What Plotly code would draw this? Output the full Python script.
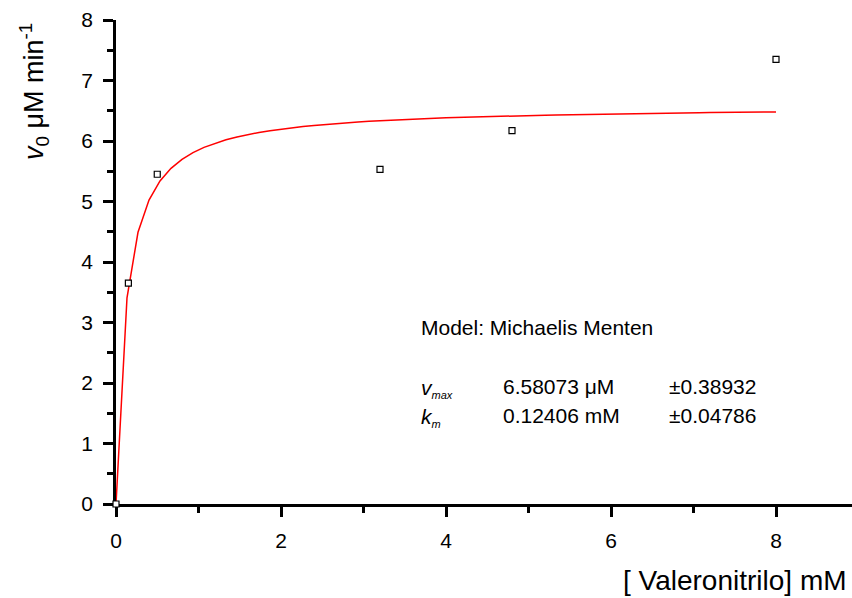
import numpy as np
import plotly.graph_objects as go

# Measured initial rates
substrate_mM = [0.0, 0.15, 0.5, 3.2, 4.8, 8.0]
rate_v0 = [0.0, 3.65, 5.45, 5.53, 6.17, 7.35]

# Fitted Michaelis-Menten parameters
vmax = 6.58073
vmax_err = 0.38932
km = 0.12406
km_err = 0.04786

x_ticks = [0, 2, 4, 6, 8]
y_ticks = [0, 1, 2, 3, 4, 5, 6, 7, 8]

# Fitted curve evaluated on a regular grid
x_fit = np.linspace(0, 8, 61)
y_fit = vmax * x_fit / (km + x_fit)

W, H = 852, 598
L, R, T, B = 116, 0, 20, 94
pw, ph = W - L - R, H - T - B

FONT = "Liberation Sans, Arial, sans-serif"


def px(xp):
    return (xp - L) / pw


def py(yp):
    return (H - B - yp) / ph


fig = go.Figure()
fig.add_trace(go.Scatter(
    x=x_fit, y=y_fit, mode="lines",
    line=dict(color="#ff0000", width=1.5),
    hoverinfo="skip", showlegend=False,
))
fig.add_trace(go.Scatter(
    x=substrate_mM, y=rate_v0, mode="markers",
    marker=dict(symbol="square", size=6, color="white", line=dict(width=1.2, color="black")),
    cliponaxis=False, showlegend=False,
))

axis_common = dict(
    showgrid=False, zeroline=False, showline=True, linecolor="black", linewidth=2.5,
    ticks="outside", ticklen=10, tickwidth=2.5, tickcolor="black",
    tickfont=dict(family=FONT, size=21, color="black"),
    ticklabelstandoff=6, layer="below traces",
)
fig.update_xaxes(
    range=[0, pw / 82.5], tickvals=x_ticks, ticktext=[str(t) for t in x_ticks],
    minor=dict(tickvals=[1, 3, 5, 7], ticklen=6, tickwidth=2.5, tickcolor="black", ticks="outside"),
    **axis_common,
)
fig.update_yaxes(
    range=[0, 8], tickvals=y_ticks, ticktext=[str(t) for t in y_ticks],
    minor=dict(tickvals=[v + 0.5 for v in y_ticks[:-1]], ticklen=6, tickwidth=2.5,
               tickcolor="black", ticks="outside"),
    **axis_common,
)

sub_style = "font-size:11px"
annotations = [
    dict(x=px(849), y=py(580), text="[ Valeronitrilo] mM", xanchor="right", yanchor="middle",
         font=dict(size=28)),
    dict(x=px(34), y=py(92), text="<i>v</i><sub>0</sub> μM min<sup>-1</sup>", textangle=-90,
         xanchor="center", yanchor="middle", font=dict(size=27)),
    dict(x=px(419), y=py(327), text="Model: Michaelis Menten", xanchor="left", yanchor="middle",
         font=dict(size=21)),
    dict(x=px(419), y=py(388),
         text=f"<i>v</i><sub><i><span style='{sub_style}'>max</span></i></sub>",
         xanchor="left", yanchor="middle", font=dict(size=21)),
    dict(x=px(501), y=py(386), text=f"{vmax:.5f} μM", xanchor="left", yanchor="middle",
         font=dict(size=21)),
    dict(x=px(667), y=py(386), text=f"±{vmax_err:.5f}", xanchor="left", yanchor="middle",
         font=dict(size=21)),
    dict(x=px(419), y=py(417),
         text=f"<i>k</i><sub><i><span style='{sub_style}'>m</span></i></sub>",
         xanchor="left", yanchor="middle", font=dict(size=21)),
    dict(x=px(501), y=py(415), text=f"{km:.5f} mM", xanchor="left", yanchor="middle",
         font=dict(size=21)),
    dict(x=px(667), y=py(415), text=f"±{km_err:.5f}", xanchor="left", yanchor="middle",
         font=dict(size=21)),
]
for a in annotations:
    a.update(xref="paper", yref="paper", showarrow=False)
    a["font"].update(family=FONT, color="black")

fig.update_layout(
    width=W, height=H,
    margin=dict(l=L, r=R, t=T, b=B, pad=0),
    paper_bgcolor="white", plot_bgcolor="white",
    annotations=annotations,
    font=dict(family=FONT, color="black"),
)

fig.write_html("out.html")
